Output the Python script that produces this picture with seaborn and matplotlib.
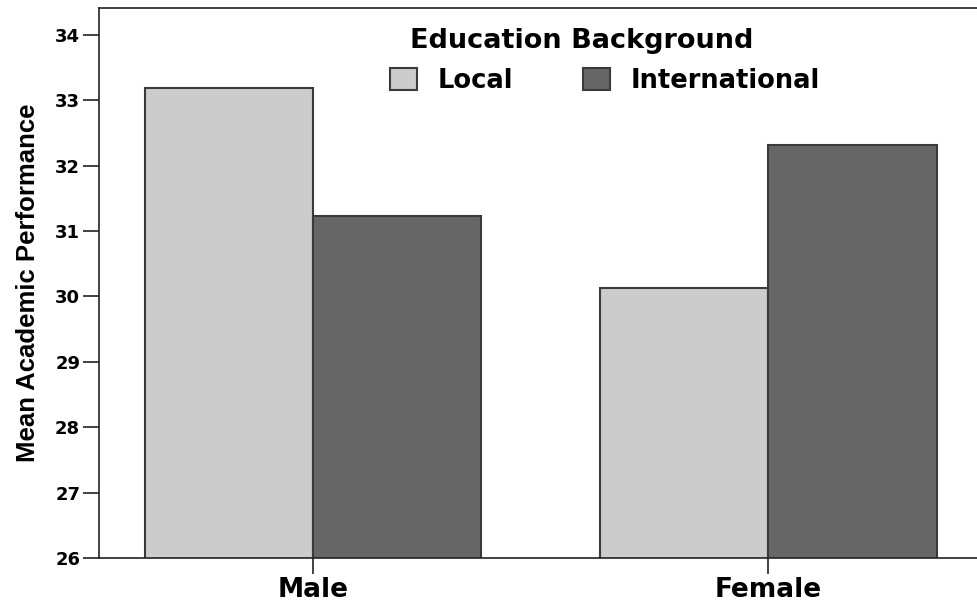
import pandas as pd
import numpy as np
import matplotlib
matplotlib.use('Agg')
import matplotlib.pyplot as plt
import seaborn as sns

genders = ['Male', 'Female']
backgrounds = ['Local', 'International']
local_vals = [33.18, 30.13]
intl_vals = [31.23, 32.32]

df = pd.DataFrame({
    'Gender': genders * 2,
    'Education Background': ['Local'] * 2 + ['International'] * 2,
    'Mean Academic Performance': local_vals + intl_vals,
})

sns.set_style('white')
plt.rcParams['font.family'] = ['DejaVu Sans']
plt.rcParams['font.weight'] = 'bold'
plt.rcParams['text.color'] = 'black'
plt.rcParams['xtick.color'] = 'black'
plt.rcParams['ytick.color'] = 'black'

fig = plt.figure(figsize=(9.77, 6.03), dpi=100)
ax = fig.add_axes([99 / 977, 1 - 558 / 603, 1 - 99 / 977 + 0.01, (558 - 8) / 603])

sns.barplot(data=df, x='Gender', y='Mean Academic Performance', hue='Education Background',
            hue_order=backgrounds, palette=['#cccccc', '#666666'], width=0.74, gap=0,
            edgecolor='#3a3a3a', linewidth=1.5, ax=ax)

ax.set_ylim(26, 34.41)
ax.set_xlim(-0.47, 1.48)
ax.set_yticks(range(26, 35))
ax.set_xlabel('')
ax.set_ylabel('Mean Academic Performance', fontsize=18.5, fontweight='bold', color='black',
              family=['Liberation Sans Narrow', 'Liberation Sans'], labelpad=11)
ax.tick_params(axis='both', direction='out', length=11.5, width=1.2, color='#222222',
               bottom=True, left=True)
ax.tick_params(axis='y', labelsize=13, pad=2)
ax.tick_params(axis='x', labelsize=19, pad=2)
for lab in ax.get_xticklabels() + ax.get_yticklabels():
    lab.set_fontweight('bold')
for s in ['left', 'bottom', 'top']:
    ax.spines[s].set_color('#222222')
    ax.spines[s].set_linewidth(1.2)
ax.spines['right'].set_visible(False)

leg = ax.legend(title='Education Background', loc='upper center', bbox_to_anchor=(605 / 977, 1 - 15 / 603),
                bbox_transform=fig.transFigure, ncol=2, frameon=False, fontsize=18.5,
                title_fontsize=19.5, handlelength=1.05, handleheight=0.9, columnspacing=2.7,
                handletextpad=0.8, borderpad=0, labelspacing=0.55)
leg.get_title().set_fontweight('bold')
leg.get_title().set_x(-23)  # title sits a bit left of the legend centre
for t in leg.get_texts():
    t.set_fontweight('bold')

fig.savefig('out.png', dpi=100)
